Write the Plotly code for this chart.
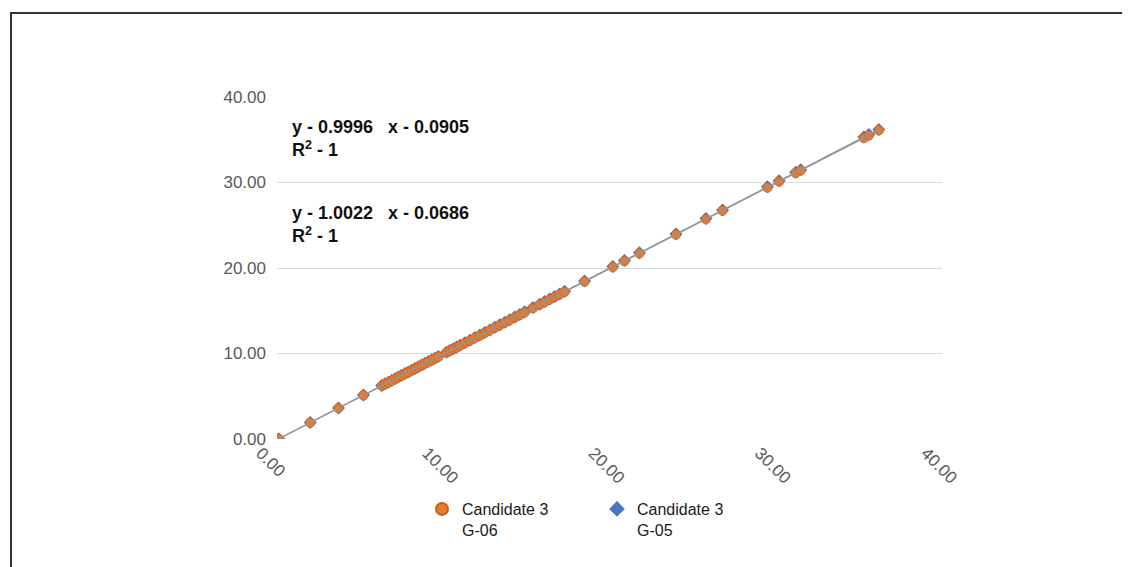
import plotly.graph_objects as go

# ---- data ----
sample_x = [0.10, 2.00, 3.70, 5.20, 6.30, 6.50, 6.70, 6.90, 7.10, 7.30, 7.50, 7.70, 7.90, 8.10,
            8.30, 8.50, 8.70, 8.90, 9.10, 9.30, 9.50, 9.70, 10.20, 10.40, 10.60, 10.80, 11.00,
            11.30, 11.60, 11.90, 12.20, 12.50, 12.80, 13.10, 13.40, 13.70, 14.00, 14.30, 14.60,
            14.90, 15.40, 15.80, 16.10, 16.40, 16.70, 17.00, 17.30, 18.50, 20.20, 20.90, 21.80,
            24.00, 25.80, 26.80, 29.50, 30.20, 31.20, 31.50, 35.30, 35.60, 36.20]

g06_y = [0.01, 1.91, 3.61, 5.11, 6.21, 6.41, 6.61, 6.81, 7.01, 7.21, 7.41, 7.61, 7.81, 8.01,
         8.21, 8.41, 8.61, 8.81, 9.01, 9.21, 9.41, 9.61, 10.11, 10.31, 10.51, 10.70, 10.90,
         11.20, 11.50, 11.80, 12.10, 12.40, 12.70, 13.00, 13.30, 13.60, 13.90, 14.20, 14.50,
         14.80, 15.30, 15.70, 16.00, 16.30, 16.60, 16.90, 17.20, 18.40, 20.10, 20.80, 21.70,
         23.90, 25.70, 26.70, 29.40, 30.10, 31.10, 31.40, 35.20, 35.50, 36.10]

g05_y = [0.03, 1.94, 3.64, 5.14, 6.25, 6.45, 6.65, 6.85, 7.05, 7.25, 7.45, 7.65, 7.85, 8.05,
         8.25, 8.45, 8.65, 8.85, 9.05, 9.25, 9.45, 9.65, 10.15, 10.36, 10.56, 10.76, 10.96,
         11.26, 11.56, 11.86, 12.16, 12.46, 12.76, 13.06, 13.36, 13.66, 13.96, 14.26, 14.56,
         14.87, 15.37, 15.77, 16.07, 16.37, 16.67, 16.97, 17.27, 18.47, 20.18, 20.88, 21.78,
         23.99, 25.79, 26.79, 29.50, 30.20, 31.20, 31.50, 35.31, 35.61, 36.21]

series_names = ["Candidate 3<br>G-06", "Candidate 3<br>G-05"]
fit_g06 = (0.9996, -0.0905)
fit_g05 = (1.0022, -0.0686)
eq_texts = ["y - 0.9996   x - 0.0905<br>R<sup>2</sup> - 1",
            "y - 1.0022   x - 0.0686<br>R<sup>2</sup> - 1"]
tick_vals = [0, 10, 20, 30, 40]
tick_text = ["0.00", "10.00", "20.00", "30.00", "40.00"]

ORANGE = "#E8792F"
BLUE = "#4A74C4"
TREND = "#8E9499"
FONT = "Liberation Sans, Arial, sans-serif"

fig = go.Figure()

fig.add_trace(go.Scatter(
    x=sample_x, y=g05_y, mode="markers", name=series_names[1], legendrank=2,
    marker=dict(symbol="diamond", size=10, color=BLUE, line=dict(width=0)),
))
fig.add_trace(go.Scatter(
    x=sample_x, y=g06_y, mode="markers", name=series_names[0], legendrank=1,
    marker=dict(symbol="circle", size=9.5, color=ORANGE, line=dict(width=0.6, color="#C0601F")),
))

xmin, xmax = min(sample_x), max(sample_x)
for (m, b) in (fit_g05, fit_g06):
    fig.add_trace(go.Scatter(
        x=[xmin, xmax], y=[m * xmin + b, m * xmax + b], mode="lines",
        line=dict(color=TREND, width=1.2), showlegend=False, hoverinfo="skip",
    ))

# page body has an 8px margin: window pixel = figure pixel + 8
OFF = 8
W, H = 1130, 567
PL, PR, PT, PB = 277 - OFF, 942 - OFF, 97 - OFF, 439 - OFF   # figure pixel coords
pw, ph = PR - PL, PB - PT

def px_x(p):  # window pixel -> paper
    return (p - OFF - PL) / pw

def px_y(p):
    return (PB - (p - OFF)) / ph

eq_font = dict(family=FONT, size=18, color="#111111", weight="bold")
for txt, top in zip(eq_texts, [115, 201]):
    fig.add_annotation(
        text=txt, xref="paper", yref="paper", x=px_x(290), y=px_y(top),
        xanchor="left", yanchor="top", align="left", showarrow=False, font=eq_font,
    )

# outer frame (partially visible in reference)
fig.add_shape(type="rect", xref="paper", yref="paper",
              x0=px_x(11), y0=px_y(700), x1=px_x(1300), y1=px_y(13),
              line=dict(color="#333333", width=2), fillcolor="rgba(0,0,0,0)", layer="above")

fig.update_layout(
    width=W, height=H,
    margin=dict(l=PL, r=W - PR, t=PT, b=H - PB),
    paper_bgcolor="white", plot_bgcolor="white",
    font=dict(family=FONT, color="#595959"),
    xaxis=dict(range=[0, 40], tickvals=tick_vals, ticktext=tick_text, tickangle=45,
               showgrid=False, zeroline=False, showline=False, ticks="",
               tickfont=dict(size=17, color="#595959"), ticklabelstandoff=0,
               ticklabelshift=-16),
    yaxis=dict(range=[0, 40], tickvals=tick_vals, ticktext=tick_text,
               showgrid=True, gridcolor="#D9D9D9", gridwidth=1, zeroline=False,
               showline=False, ticks="", tickfont=dict(size=17, color="#595959"),
               ticklabelstandoff=10),
    showlegend=True,
    legend=dict(orientation="h", x=px_x(422), xanchor="left", y=px_y(492), yanchor="top",
                valign="top", entrywidth=130, itemsizing="constant",
                font=dict(size=16, color="#1a1a1a", family=FONT),
                bgcolor="rgba(0,0,0,0)"),
)

fig.write_html("out.html")
